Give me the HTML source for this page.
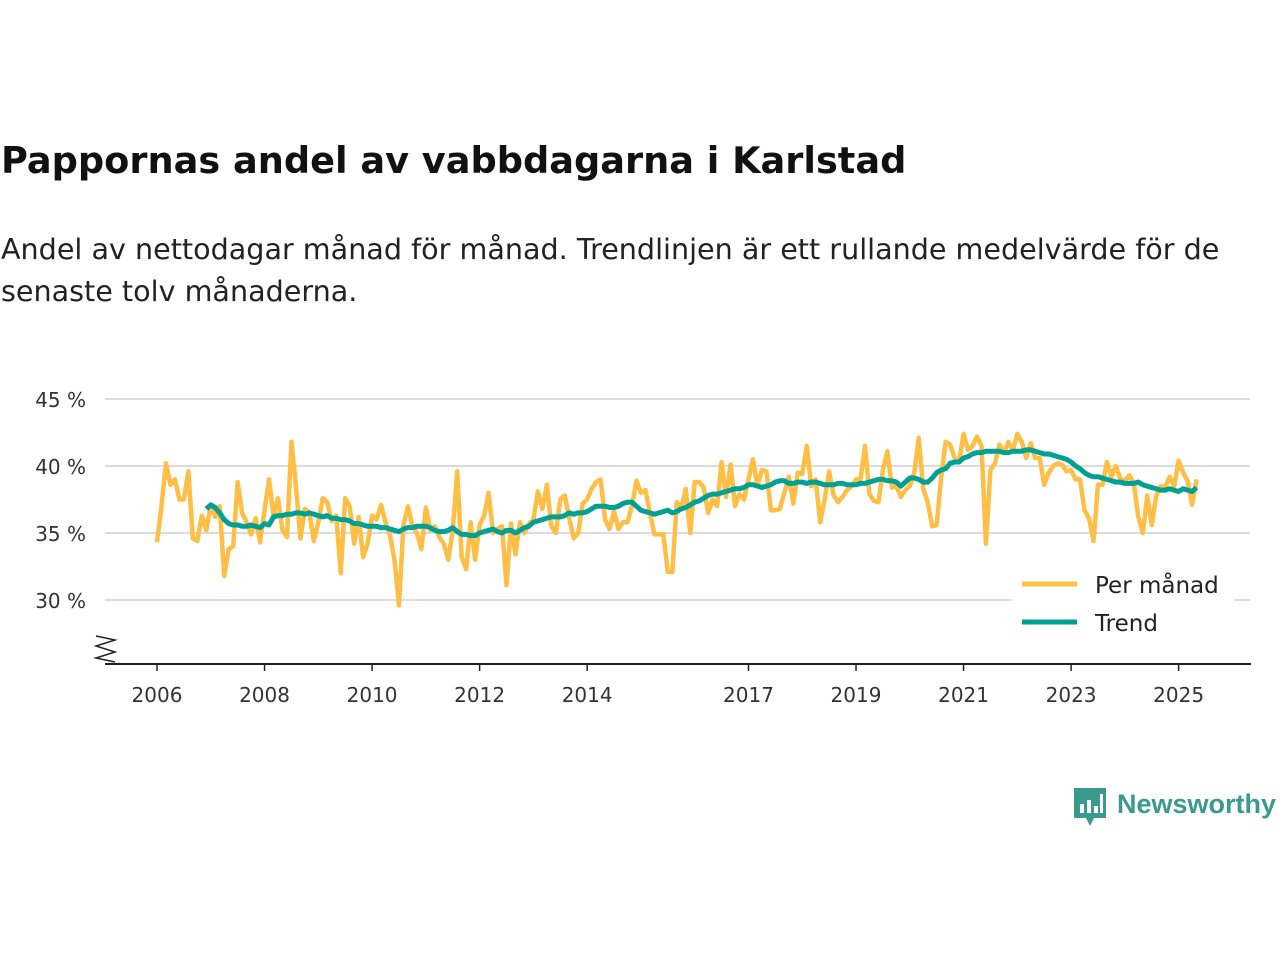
<!DOCTYPE html>
<html><head><meta charset="utf-8"><style>
body{margin:0;width:1280px;height:960px;background:#fff;font-family:"DejaVu Sans","Liberation Sans",sans-serif;position:relative;overflow:hidden}
h1{position:absolute;left:1px;top:139px;margin:0;font-size:36.7px;font-weight:bold;color:#111;white-space:nowrap}
p.sub{position:absolute;left:1px;top:228px;margin:0;font-size:28.6px;line-height:42px;color:#222;width:1270px}
</style></head><body>
<h1>Pappornas andel av vabbdagarna i Karlstad</h1>
<p class="sub">Andel av nettodagar månad för månad. Trendlinjen är ett rullande medelvärde för de<br>senaste tolv månaderna.</p>
<svg id="chart" width="1280" height="960" style="position:absolute;left:0;top:0"></svg>
<div style="position:absolute;left:1072px;top:786px;display:flex;align-items:center">
<svg width="36" height="42"><path d="M2 2h32v30h-12l-4 8-4-8H2z" fill="#3a9a8e"/><rect x="8" y="18" width="4" height="9" fill="#fff"/><rect x="15" y="14" width="4" height="13" fill="#fff"/><rect x="22" y="20" width="4" height="7" fill="#fff"/><rect x="28" y="8" width="3" height="19" fill="#fff"/></svg>
<span style="font-family:'Liberation Sans',sans-serif;font-size:27px;font-weight:bold;color:#3a9a8e;margin-left:9px;margin-top:-6px">Newsworthy</span></div>
<script>
const yTicks=[30,35,40,45];
const xTickYears=[2006,2008,2010,2012,2014,2017,2019,2021,2023,2025];
const monthly=[
34.3,37.0,40.2,38.6,39.0,37.5,37.5,39.6,34.6,34.4,36.3,35.2,
37.1,36.2,37.0,31.8,33.8,34.0,38.8,36.5,35.8,34.9,36.1,34.3,
36.7,39.0,36.3,37.6,35.2,34.7,41.8,38.5,34.6,36.8,36.5,34.4,
35.8,37.6,37.3,35.9,36.3,32.0,37.6,37.0,34.2,36.2,33.2,34.2,
36.3,36.0,37.1,35.8,34.8,33.0,29.6,35.6,37.0,35.5,35.0,33.8,
36.9,35.2,35.5,34.7,34.2,33.0,35.2,39.6,33.2,32.3,35.8,33.0,
35.6,36.3,38.0,35.0,35.3,35.5,31.1,35.7,33.4,35.8,35.0,35.7,
36.0,38.1,36.8,38.6,35.5,35.0,37.5,37.8,36.1,34.6,35.0,37.2,
37.5,38.3,38.8,39.0,36.0,35.3,36.6,35.3,35.8,35.8,37.0,38.9,
38.0,38.2,36.5,34.9,34.9,34.9,32.1,32.1,37.3,36.8,38.3,35.0,
38.8,38.8,38.4,36.5,37.5,37.0,40.3,37.7,40.1,37.0,37.9,37.5,
39.0,40.5,38.5,39.7,39.6,36.7,36.7,36.8,38.0,39.2,37.2,39.5,
39.4,41.5,38.5,39.0,35.8,37.5,39.6,37.8,37.3,37.7,38.2,38.5,
39.0,39.0,41.5,37.9,37.4,37.3,39.7,41.1,38.4,38.5,37.7,38.2,
38.5,39.5,42.1,38.3,37.3,35.5,35.6,39.1,41.8,41.6,40.6,40.3,
42.4,41.2,41.5,42.2,41.5,34.2,39.7,40.2,41.6,41.0,41.8,41.2,
42.4,41.8,40.6,41.7,40.6,40.6,38.6,39.5,40.0,40.2,40.1,39.6,
39.7,39.0,39.0,36.7,36.1,34.4,38.6,38.6,40.3,39.2,40.0,39.0,
38.9,39.3,38.7,36.2,35.0,37.8,35.6,37.8,38.5,38.4,39.2,38.5,
40.4,39.5,38.9,37.1,39.0];
const trendStart=11;
const trend=[
36.8,
37.1,36.9,36.5,36.0,35.7,35.6,35.6,35.5,35.5,35.6,35.5,35.4,
35.7,35.6,36.2,36.3,36.3,36.4,36.4,36.5,36.5,36.4,36.5,36.4,
36.3,36.2,36.3,36.1,36.1,36.0,36.0,35.9,35.7,35.7,35.6,35.5,
35.5,35.5,35.4,35.4,35.3,35.2,35.1,35.3,35.4,35.4,35.5,35.5,
35.5,35.4,35.2,35.1,35.1,35.2,35.4,35.1,34.9,34.9,34.8,34.8,
35.0,35.1,35.2,35.3,35.1,35.0,35.2,35.2,35.0,35.2,35.4,35.5,
35.8,35.9,36.0,36.1,36.2,36.2,36.2,36.3,36.5,36.4,36.5,36.5,
36.6,36.8,37.0,37.0,37.0,36.9,36.9,37.0,37.2,37.3,37.3,37.0,
36.7,36.6,36.5,36.4,36.5,36.6,36.7,36.5,36.6,36.8,36.9,37.1,
37.3,37.4,37.6,37.8,37.9,37.9,38.0,38.1,38.2,38.3,38.3,38.4,
38.6,38.6,38.5,38.4,38.5,38.6,38.8,38.9,38.9,38.7,38.7,38.8,
38.8,38.7,38.8,38.8,38.7,38.6,38.6,38.6,38.7,38.7,38.6,38.6,
38.6,38.7,38.7,38.8,38.9,39.0,39.0,38.9,38.9,38.8,38.5,38.8,
39.1,39.1,39.0,38.8,38.8,39.1,39.5,39.7,39.8,40.2,40.3,40.3,
40.6,40.7,40.9,41.0,41.0,41.1,41.1,41.1,41.1,41.0,41.0,41.1,
41.1,41.1,41.2,41.2,41.1,41.0,40.9,40.9,40.8,40.7,40.6,40.5,
40.3,40.0,39.8,39.5,39.3,39.2,39.2,39.1,39.0,38.9,38.8,38.8,
38.7,38.7,38.7,38.8,38.6,38.5,38.4,38.3,38.2,38.2,38.3,38.2,
38.1,38.3,38.2,38.1,38.4];
const NS="http://www.w3.org/2000/svg";
const svg=document.getElementById('chart');
const FONT='DejaVu Sans, Liberation Sans, sans-serif';
function x(i){return 157+(i/12)*53.77;}
function xYear(yr){return 157+(yr-2006)*53.77;}
function y(v){return 466-(v-40)*13.4;}
function mk(t,a){const e=document.createElementNS(NS,t);for(const k in a)e.setAttribute(k,a[k]);svg.appendChild(e);return e;}
yTicks.forEach(v=>{
 const g=mk('line',{x1:105,x2:1250,y1:y(v),y2:y(v),stroke:'#dcdcdc','stroke-width':2});
 
 
 const t=mk('text',{x:86,y:y(v)+8,'text-anchor':'end','font-size':20,fill:'#333','font-family':FONT});
 t.textContent=v+' %';
 
 
});
const ax=mk('line',{x1:105,x2:1251,y1:664,y2:664,stroke:'#222','stroke-width':2});


const brk=mk('path',{d:'M96 636 L115 640 L96 646 L115 652 L96 658 L115 662',fill:'none',stroke:'#222','stroke-width':1.5});


xTickYears.forEach(yr=>{
 const tk=mk('line',{x1:xYear(yr),x2:xYear(yr),y1:664,y2:671,stroke:'#222','stroke-width':1.5});
 
 
 const t=mk('text',{x:xYear(yr),y:702,'text-anchor':'middle','font-size':20,fill:'#333','font-family':FONT});
 t.textContent=yr;
 
 
});
const pm=mk('polyline',{points:monthly.map((v,i)=>x(i)+','+y(v)).join(' '),fill:'none',stroke:'#ffbe45','stroke-width':4.5,'stroke-linejoin':'round'});


const tr=mk('polyline',{points:trend.map((v,i)=>x(i+trendStart)+','+y(v)).join(' '),fill:'none',stroke:'#00a092','stroke-width':5,'stroke-linejoin':'round'});


const lb=mk('rect',{x:1012,y:568,width:222,height:74,fill:'#fff'});


[['Per månad','#ffbe45',584],['Trend','#00a092',622]].forEach(([n,c,yy])=>{
 const l=mk('line',{x1:1022,x2:1077,y1:yy,y2:yy,stroke:c,'stroke-width':5});
 
 
 const t=mk('text',{x:1095,y:yy+9,'font-size':23,fill:'#222','font-family':FONT});
 t.textContent=n;
 
 
});
</script>
</body></html>
